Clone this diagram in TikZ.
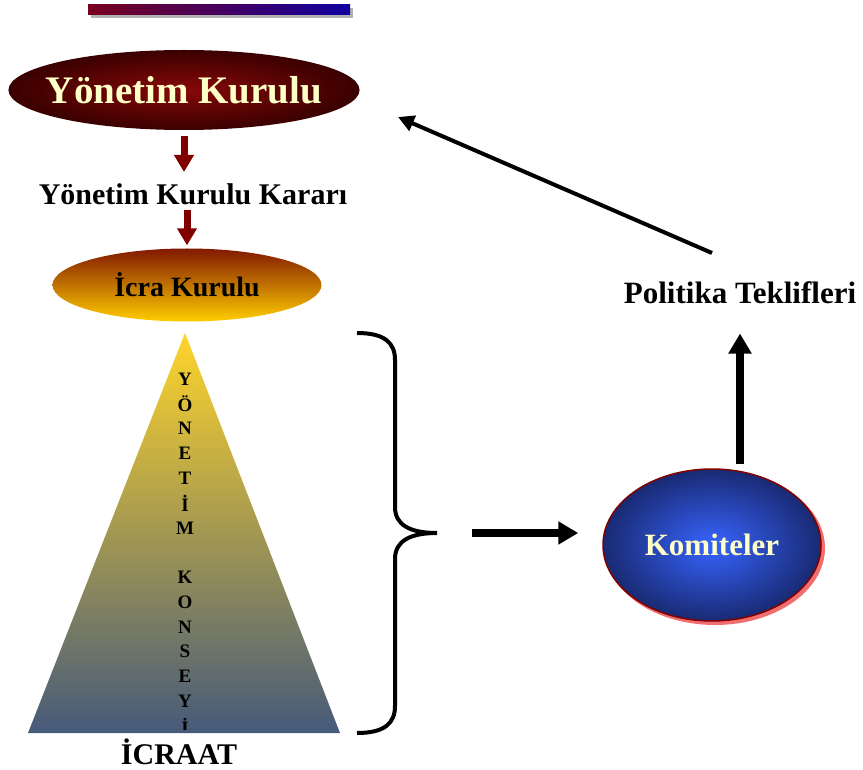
\documentclass[tikz,border=0pt]{standalone}
\usepackage{fontspec}
\setmainfont{Liberation Serif}
\usepackage{xcolor}
\usetikzlibrary{shapes.geometric,arrows.meta}

\definecolor{krem}{RGB}{255,255,200}
\definecolor{bordo}{RGB}{128,0,0}
\definecolor{bordoic}{RGB}{135,8,8}
\definecolor{bordodis}{RGB}{58,0,0}
\definecolor{icraust}{RGB}{130,25,0}
\definecolor{icraorta}{RGB}{220,140,0}
\definecolor{icraalt}{RGB}{255,205,0}
\definecolor{sari}{RGB}{255,213,42}
\definecolor{lacivert}{RGB}{70,90,122}
\definecolor{mavic}{RGB}{55,100,255}
\definecolor{mavidis}{RGB}{25,42,115}
\definecolor{pembe}{RGB}{240,110,110}
\definecolor{cubukkirmizi}{RGB}{120,0,30}
\definecolor{cubukmavi}{RGB}{16,0,160}

\begin{document}
\begin{tikzpicture}[x=1pt,y=-1pt,
  yazi/.style={inner sep=0pt, anchor=base, font=\bfseries\fontsize{30}{32}\selectfont},
  harf/.style={inner sep=0pt, font=\bfseries\fontsize{19}{20}\selectfont},
  okbordo/.style={draw=bordo, line width=7pt, -{Triangle[width=19pt,length=17pt]}},
  okkalin/.style={draw=black, line width=8pt, -{Triangle[width=22pt,length=20pt]}}]
\useasboundingbox (0,0) rectangle (863,770);

% ust cubuk
\fill[black!30] (91,8) rectangle (353,18);
\shade[left color=cubukkirmizi, right color=cubukmavi] (88,5) rectangle (350,15);

\node[ellipse, inner xsep=-14pt, inner ysep=0pt, minimum width=345pt, minimum height=80pt,
      inner color=bordoic, outer color=bordodis, text=krem,
      font=\bfseries\fontsize{39}{42}\selectfont] (YK) at (184,90) {Yönetim Kurulu};
\node[yazi] (KK) at (193,205) {Yönetim Kurulu Kararı};
\node[ellipse, inner sep=0pt, minimum width=269pt, minimum height=73pt,
      top color=icraust, middle color=icraorta, bottom color=icraalt,
      font=\bfseries\fontsize{28}{30}\selectfont] (IK) at (187,285) {İcra Kurulu};

% piramit
\shade[top color=sari, bottom color=lacivert] (185,333) -- (340,733) -- (28,733) -- cycle;
\begin{scope}
  \clip (0,0) rectangle (863,729);
  \foreach \h [count=\i from 0] in {Y,Ö,N,E,T,İ,M,{},K,O,N,S,E,Y,İ}
    \node[harf] (H\i) at (185,379+24.8*\i) {\h};
\end{scope}
\node[yazi] (IC) at (179,764) {İCRAAT};

% parantez
\draw[line width=4pt] (357,333) .. controls (385,333) and (395,343) .. (395,360)
  -- (395,507) .. controls (395,525) and (410,533) .. (437,533)
  .. controls (410,533) and (395,541) .. (395,559)
  -- (395,706) .. controls (395,723) and (385,733) .. (357,733);
\coordinate (BR) at (437,533);

\fill[pembe] (715,548) ellipse (110pt and 77pt);
\node[ellipse, draw=bordo, line width=1.5pt, inner sep=0pt, minimum width=218pt, minimum height=152pt,
      inner color=mavic, outer color=mavidis, text=krem,
      font=\bfseries\fontsize{31}{33}\selectfont] (KOM) at (712,545) {Komiteler};
\node[yazi, font=\bfseries\fontsize{31}{33}\selectfont] (PT) at (740,304) {Politika Teklifleri};

\coordinate (P1) at (712,253);
\coordinate (P2) at (398,117);

\draw[okbordo, shorten <=6pt] (YK.south) -- (YK.south |- 0,172);
\draw[okbordo, shorten >=3pt] (IK.north |- 0,210) -- (IK.north);
\draw[okkalin, shorten <=35pt, shorten >=24pt] (BR) -- (BR -| KOM.west);
\draw[okkalin, shorten <=4pt, shorten >=29pt] (PT |- KOM.north) -- (PT.south);
\draw[line width=4pt, -{Triangle[width=16pt,length=16pt]}] (P1) -- (P2);
\end{tikzpicture}
\end{document}
